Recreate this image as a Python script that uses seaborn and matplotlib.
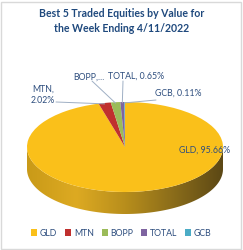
import numpy as np
import matplotlib
matplotlib.use("Agg")
import matplotlib.pyplot as plt
import seaborn as sns
from matplotlib.patches import Polygon, Patch, Rectangle
from matplotlib.colors import LinearSegmentedColormap

# data
equities = ["GLD", "MTN", "BOPP", "TOTAL", "GCB"]
shares = [95.66, 2.02, 1.56, 0.65, 0.11]
label_text = ["GLD, 95.66%", "MTN,\n2.02%", "BOPP,...", "TOTAL, 0.65%", "GCB, 0.11%"]
colors = ["#FAC01A", "#C0302E", "#9BBB59", "#7E64A0", "#4BACC6"]

sns.set_theme(style="white")
plt.rcParams['font.family'] = ['Lato', 'DejaVu Sans']

W, H = 243, 250
fig = plt.figure(figsize=(W / 100, H / 100), dpi=100)
ax = fig.add_axes([0, 0, 1, 1])

# ellipse geometry in pixels (y from top)
cx, cy = 125, 147
rx, ry = 98, 45
depth = 22 / ry


def px(x, y):
    return (x - cx) / rx, (cy - y) / ry


# side of the 3D disc, drawn with a horizontal gradient
t = np.linspace(np.pi, 2 * np.pi, 200)
top = np.column_stack([np.cos(t), np.sin(t)])
bot = np.column_stack([np.cos(t[::-1]), np.sin(t[::-1]) - depth])
side = Polygon(np.vstack([top, bot]), closed=True, facecolor="none", edgecolor="none")
ax.add_patch(side)
side_cmap = LinearSegmentedColormap.from_list(
    "side", ["#C99A18", "#DDAA22", "#B88E1C", "#8A6C1A", "#5C4815"])
im = ax.imshow(np.linspace(0, 1, 256).reshape(1, -1), extent=(-1, 1, -1 - depth, 0.05),
               cmap=side_cmap, aspect="auto", zorder=1)
im.set_clip_path(side)

# top face
wedges, _ = ax.pie(shares, colors=colors, startangle=90, counterclock=False,
                   radius=1, wedgeprops=dict(linewidth=0, zorder=2))
ax.set_xlim(-cx / rx, (W - cx) / rx)
ax.set_ylim(-(H - cy) / ry, cy / ry)
ax.set_aspect("auto")
ax.axis("off")

# data labels with leader lines
label_pos = [(205, 150), (43, 95), (89, 77), (136, 76), (178, 93)]
line_start = [None, (56, 102), (92, 81), (123, 81), (156, 100)]
txt_color = "#2E4E7E"
for w, lab, pos, ls in zip(wedges, label_text, label_pos, line_start):
    ax.text(*px(*pos), lab, ha="center", va="center", fontsize=6.3,
            color=txt_color, linespacing=1.25, zorder=5)
    if ls is not None:
        mid = np.deg2rad((w.theta1 + w.theta2) / 2)
        ax.plot([px(*ls)[0], np.cos(mid)], [px(*ls)[1], np.sin(mid) * 0.98],
                color="#9FAFC4", lw=0.7, zorder=4)

fig.text(0.5, 1 - 21 / H, "Best 5 Traded Equities by Value for\nthe Week Ending 4/11/2022",
         ha="center", va="center", fontsize=7.6, fontweight="bold",
         color="#1F497D", linespacing=1.35)

handles = [Patch(facecolor=c, edgecolor="none") for c in colors]
fig.legend(handles, equities, loc="center", bbox_to_anchor=(0.5, 1 - 233 / H), ncol=5,
           frameon=False, fontsize=6.3, handlelength=0.7, handleheight=0.7,
           handletextpad=0.3, columnspacing=0.9, labelcolor=txt_color)

fig.patches.append(Rectangle((1 / W, 1 / H), 1 - 3 / W, 1 - 3 / H, transform=fig.transFigure,
                             fill=False, edgecolor="#D9D9D9", lw=1))

fig.savefig("out.png", dpi=100)
